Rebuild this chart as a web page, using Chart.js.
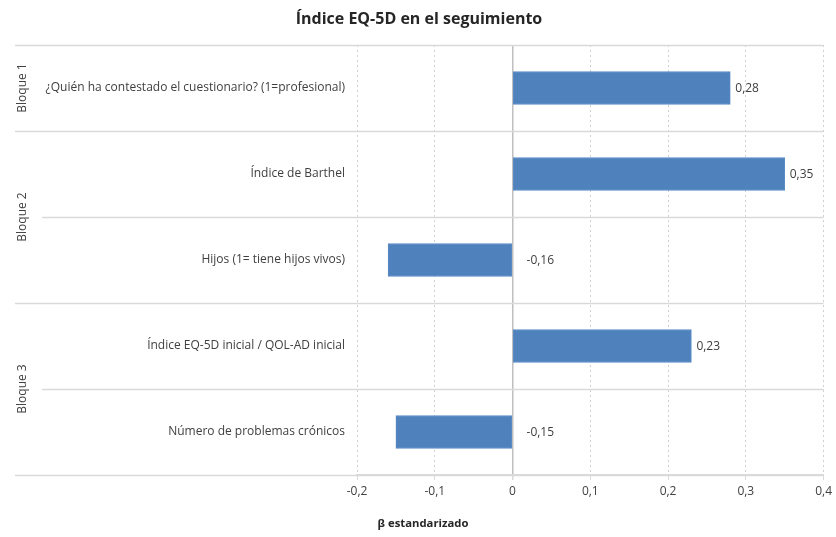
<!DOCTYPE html>
<html>
<head>
<meta charset="utf-8">
<script src="https://cdn.jsdelivr.net/npm/chart.js@4"></script>
<style>
  html, body { margin: 0; padding: 0; background: #fff; }
  #wrap { width: 836px; height: 537px; }
</style>
</head>
<body>
<div id="wrap"><canvas id="chart"></canvas></div>
<script>
// data
const categories = [
  "¿Quién ha contestado el cuestionario? (1=profesional)",
  "Índice de Barthel",
  "Hijos (1= tiene hijos vivos)",
  "Índice EQ-5D inicial / QOL-AD inicial",
  "Número de problemas crónicos"
];
const betaValues = [0.28, 0.35, -0.16, 0.23, -0.15];
const valueLabels = ["0,28", "0,35", "-0,16", "0,23", "-0,15"];
const blocks = ["Bloque 1", "Bloque 2", "Bloque 3"];
const blockSpans = [[0, 0], [1, 2], [3, 4]]; // first/last category index of each block
const xTicks = [-0.2, -0.1, 0, 0.1, 0.2, 0.3, 0.4];

const FONT = "'Open Sans', sans-serif";
const TEXT = "#404040";
const LINE = "#d9d9d9";

const decorPlugin = {
  id: "decor",
  afterDraw(chart) {
    const ctx = chart.ctx;
    const area = chart.chartArea;
    const y = chart.scales.y;
    const meta = chart.getDatasetMeta(0);
    const half = (y.getPixelForValue(1) - y.getPixelForValue(0)) / 2;

    ctx.save();
    // separators between categories / blocks
    ctx.strokeStyle = LINE;
    ctx.lineWidth = 1.5;
    const blockStarts = blockSpans.map(s => s[0]);
    for (let i = 0; i <= categories.length; i++) {
      const py = Math.round(y.getPixelForValue(i) - half) + 0.5;
      const isBlock = i === categories.length || blockStarts.includes(i);
      ctx.beginPath();
      ctx.moveTo(isBlock ? 15 : 42, py);
      ctx.lineTo(area.right, py);
      ctx.stroke();
    }

    // block labels, rotated
    ctx.fillStyle = TEXT;
    ctx.font = "12px " + FONT;
    ctx.textAlign = "center";
    ctx.textBaseline = "middle";
    blocks.forEach((b, k) => {
      const top = y.getPixelForValue(blockSpans[k][0]) - half;
      const bot = y.getPixelForValue(blockSpans[k][1]) + half;
      ctx.save();
      ctx.translate(23, (top + bot) / 2);
      ctx.rotate(-Math.PI / 2);
      ctx.fillText(b, 0, 0);
      ctx.restore();
    });

    // value labels
    const x0 = chart.scales.x.getPixelForValue(0);
    ctx.font = "12px " + FONT;
    ctx.textAlign = "left";
    meta.data.forEach((bar, i) => {
      const lx = betaValues[i] >= 0 ? bar.x + 5 : x0 + 14;
      ctx.fillText(valueLabels[i], lx, bar.y + 1);
    });

    // titles
    ctx.fillStyle = "#262626";
    ctx.textAlign = "center";
    ctx.font = "bold 16px " + FONT;
    ctx.fillText("Índice EQ-5D en el seguimiento", 419, 19);
    ctx.font = "bold 11.3px " + FONT;
    ctx.fillText("β estandarizado", 423, 524);
    ctx.restore();
  }
};

new Chart(document.getElementById("chart"), {
  type: "bar",
  data: {
    labels: categories,
    datasets: [{
      data: betaValues,
      backgroundColor: "#4f81bd",
      borderColor: "#5b8cc6",
      borderWidth: 1,
      borderSkipped: false,
      barThickness: 33
    }]
  },
  options: {
    indexAxis: "y",
    responsive: true,
    maintainAspectRatio: false,
    animation: false,
    layout: { padding: { top: 45, right: 11, left: 0, bottom: 0 } },
    plugins: {
      legend: { display: false },
      tooltip: { enabled: false }
    },
    scales: {
      x: {
        min: -0.2,
        max: 0.4,
        afterBuildTicks: (scale) => { scale.ticks = xTicks.map(v => ({ value: v })); },
        afterFit: (scale) => { scale.height = 62; },
        ticks: {
          color: TEXT,
          font: { family: FONT, size: 12 },
          padding: 4,
          callback: (v) => (v === 0 ? "0" : v.toFixed(1).replace(".", ","))
        },
        grid: {
          color: (c) => (c.tick && c.tick.value === 0 ? "#bfbfbf" : "#d0d0d0"),
          lineWidth: (c) => (c.tick && c.tick.value === 0 ? 1.5 : 1),
          tickColor: LINE,
          tickLength: 5
        },
        border: {
          display: true,
          color: LINE,
          width: 1.5,
          dash: (c) => (c.tick && c.tick.value === 0 ? [] : [2, 3])
        }
      },
      y: {
        afterFit: (scale) => { scale.width = 357; },
        ticks: {
          color: TEXT,
          font: { family: FONT, size: 12 },
          padding: 4
        },
        grid: { display: false },
        border: { display: false }
      }
    }
  },
  plugins: [decorPlugin]
});
</script>
</body>
</html>
